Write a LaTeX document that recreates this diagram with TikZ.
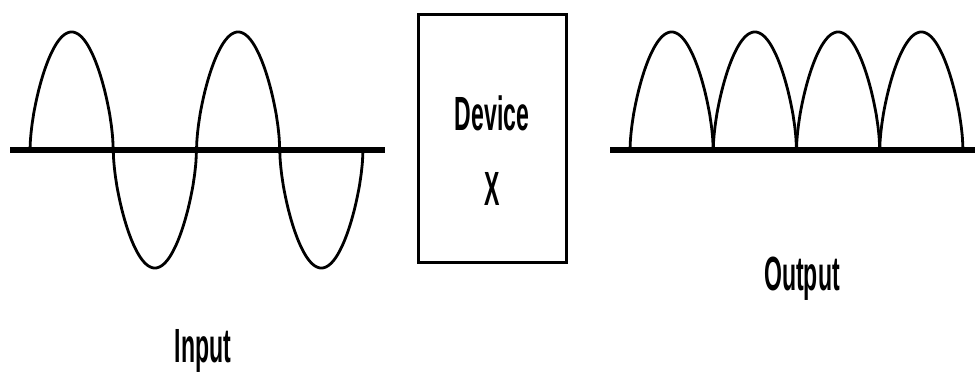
\documentclass[tikz,border=0pt]{standalone}
\usepackage{fontspec}
\newfontfamily\labfont{Liberation Sans}
\newcommand\condtext[1]{\scalebox{0.48}[1]{#1}}
\begin{document}
\begin{tikzpicture}[x=1pt,y=-1pt,
  axisline/.style={line width=6pt},
  waveline/.style={line width=2.8pt, line join=round},
  boxstyle/.style={draw, line width=3pt, minimum width=148pt, minimum height=248pt, inner sep=0pt},
  lab/.style={font=\labfont\bfseries\fontsize{48}{50}\selectfont, inner sep=0pt, anchor=base}]
\useasboundingbox (0,0) rectangle (975,378);
% input
\coordinate (ia) at (10,150);
\coordinate (ib) at (385,150);
\foreach \k/\s in {0/1,1/-1,2/1,3/-1}{
  \draw[waveline] ({30+83.25*\k},150) -- plot[domain=0.004:0.996, samples=200] ({30+83.25*(\k+\x)},{150-\s*118*pow(sin(\x*180),0.6)}) -- ({30+83.25*(\k+1)},150);
}
\draw[axisline] (ia) -- (ib);
\node[lab] (in) at (203,362) {\condtext{Input}};
% device
\node[boxstyle] (box) at (492,138) {};
\node[lab] (dev) at (492,130) {\condtext{Device}};
\node[lab] (x) at (492,205) {\condtext{X}};
% output
\coordinate (oa) at (610,150);
\coordinate (ob) at (975,150);
\foreach \k in {0,1,2,3}{
  \draw[waveline] ({630+83.25*\k},150) -- plot[domain=0.004:0.996, samples=200] ({630+83.25*(\k+\x)},{150-118*pow(sin(\x*180),0.6)}) -- ({630+83.25*(\k+1)},150);
}
\draw[axisline] (oa) -- (ob);
\node[lab] (out) at (802,290) {\condtext{Output}};
\end{tikzpicture}
\end{document}
